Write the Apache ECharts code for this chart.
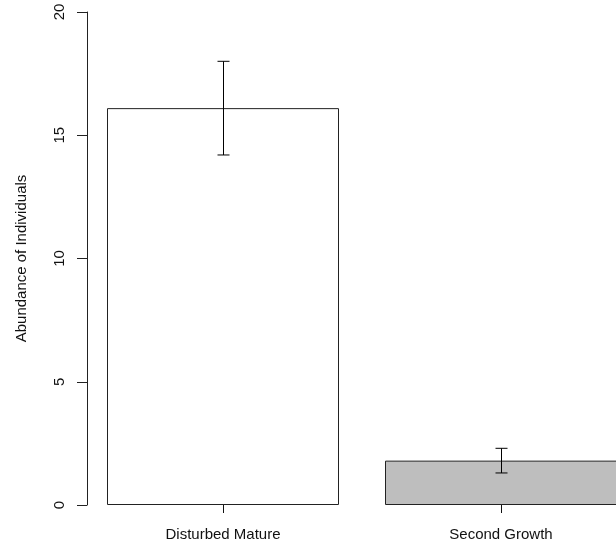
<!DOCTYPE html>
<html>
<head>
<meta charset="utf-8">
<script src="https://cdn.jsdelivr.net/npm/echarts@6/dist/echarts.min.js"></script>
<style>html,body{margin:0;padding:0;background:#fff;overflow:hidden;width:616px;height:546px;}#chart{width:640px;height:546px;}</style>
</head>
<body>
<div id="chart"></div>
<script>
const categories = ['Disturbed Mature', 'Second Growth'];
const meanValues = [16.1, 1.8];
const errLow = [14.2, 1.3];
const errHigh = [18.0, 2.3];
const barColors = ['#ffffff', '#bebebe'];
const yTicks = [0, 5, 10, 15, 20];
const yTitle = 'Abundance of Individuals';

const FONT = '"Liberation Sans", Arial, sans-serif';
const chart = echarts.init(document.getElementById('chart'), null, {renderer: 'canvas'});
chart.setOption({
  animation: false,
  backgroundColor: '#ffffff',
  grid: {left: 84, right: 0, top: 12, bottom: 41, containLabel: false},
  xAxis: {
    type: 'category',
    data: categories,
    boundaryGap: true,
    axisLine: {show: false},
    axisTick: {show: true, alignWithLabel: true, length: 8, lineStyle: {color: '#111', width: 1}},
    axisLabel: {color: '#111', fontFamily: FONT, fontSize: 15, margin: 22},
    splitLine: {show: false}
  },
  yAxis: {
    type: 'value',
    min: yTicks[0],
    max: yTicks[yTicks.length - 1],
    interval: 5,
    offset: -3,
    name: yTitle,
    nameLocation: 'middle',
    nameRotate: 90,
    nameGap: 58,
    nameTextStyle: {color: '#111', fontFamily: FONT, fontSize: 15},
    axisLine: {show: true, lineStyle: {color: '#222', width: 1}},
    axisTick: {show: true, length: 10, lineStyle: {color: '#222', width: 1}},
    axisLabel: {rotate: 90, color: '#111', fontFamily: FONT, fontSize: 15, margin: 20},
    splitLine: {show: false}
  },
  series: [
    {
      type: 'bar',
      data: meanValues.map((v, i) => ({value: v, itemStyle: {color: barColors[i]}})),
      barWidth: 232,
      itemStyle: {borderColor: '#222', borderWidth: 1},
      silent: true
    },
    {
      type: 'custom',
      data: categories.map((c, i) => [i, errLow[i], errHigh[i]]),
      renderItem: function (params, api) {
        const idx = api.value(0);
        const lo = api.coord([idx, api.value(1)]);
        const hi = api.coord([idx, api.value(2)]);
        const x = Math.round(lo[0]) + 0.5;
        const half = 6;
        const st = {stroke: '#000', lineWidth: 1};
        return {
          type: 'group',
          children: [
            {type: 'line', shape: {x1: x, y1: hi[1], x2: x, y2: lo[1]}, style: st},
            {type: 'line', shape: {x1: x - half, y1: hi[1], x2: x + half, y2: hi[1]}, style: st},
            {type: 'line', shape: {x1: x - half, y1: lo[1], x2: x + half, y2: lo[1]}, style: st}
          ]
        };
      },
      z: 10,
      silent: true
    }
  ]
});
</script>
</body>
</html>
